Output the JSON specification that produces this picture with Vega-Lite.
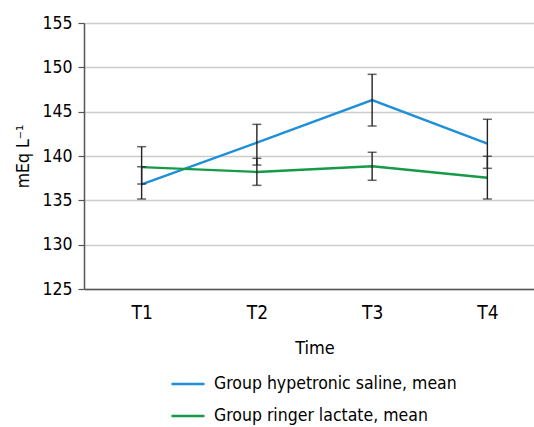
{
  "$schema": "https://vega.github.io/schema/vega-lite/v6.json",
  "width": 461,
  "height": 266,
  "autosize": {"type": "none"},
  "padding": {"left": 84, "top": 23, "right": -11, "bottom": 138},
  "background": "white",
  "config": {
    "view": {"stroke": null},
    "font": "DejaVu Sans Condensed, Roboto",
    "axis": {"labelFont": "DejaVu Sans Condensed, Roboto", "titleFont": "DejaVu Sans Condensed, Roboto"},
    "legend": {"labelFont": "DejaVu Sans Condensed, Roboto"}
  },
  "data": {
    "values": [
      {"time": "T1", "series": "Group hypetronic saline, mean", "mean": 136.8, "low": 135.15, "high": 138.79},
      {"time": "T2", "series": "Group hypetronic saline, mean", "mean": 141.5, "low": 138.98, "high": 143.57},
      {"time": "T3", "series": "Group hypetronic saline, mean", "mean": 146.3, "low": 143.38, "high": 149.21},
      {"time": "T4", "series": "Group hypetronic saline, mean", "mean": 141.4, "low": 138.61, "high": 144.14},
      {"time": "T1", "series": "Group ringer lactate, mean", "mean": 138.75, "low": 136.84, "high": 141.05},
      {"time": "T2", "series": "Group ringer lactate, mean", "mean": 138.2, "low": 136.69, "high": 139.74},
      {"time": "T3", "series": "Group ringer lactate, mean", "mean": 138.85, "low": 137.26, "high": 140.42},
      {"time": "T4", "series": "Group ringer lactate, mean", "mean": 137.55, "low": 135.15, "high": 139.97}
    ]
  },
  "encoding": {
    "x": {
      "field": "time", "type": "ordinal",
      "scale": {"type": "point", "padding": 0.5},
      "axis": {
        "title": "Time", "labelAngle": 0, "ticks": false,
        "domainColor": "#555555", "domainWidth": 1.5,
        "labelFontSize": 19, "labelColor": "#000000", "labelPadding": 14,
        "titleFontSize": 18, "titleFontWeight": "normal", "titleColor": "#000000", "titlePadding": 17
      }
    }
  },
  "layer": [
    {
      "mark": {"type": "line", "strokeWidth": 2.4},
      "encoding": {
        "y": {
          "field": "mean", "type": "quantitative",
          "scale": {"domain": [125, 155], "nice": false, "zero": false},
          "axis": {
            "values": [125, 130, 135, 140, 145, 150, 155],
            "title": "mEq L⁻¹",
            "grid": true, "gridColor": "#cccccc", "gridWidth": 1.5,
            "domainColor": "#555555", "domainWidth": 1.5,
            "tickColor": "#555555", "tickSize": 6, "tickWidth": 1.2,
            "labelFontSize": 17.5, "labelColor": "#000000", "labelPadding": 6,
            "titleFontSize": 17.5, "titleFontWeight": "normal", "titleColor": "#000000", "titlePadding": 9
          }
        },
        "color": {
          "field": "series", "type": "nominal",
          "scale": {
            "domain": ["Group hypetronic saline, mean", "Group ringer lactate, mean"],
            "range": ["#1e90d8", "#169a48"]
          },
          "legend": {
            "orient": "none", "legendX": 86, "legendY": 343, "direction": "vertical",
            "title": null, "labelFontSize": 17.5, "labelColor": "#000000", "labelLimit": 400,
            "symbolType": "stroke", "symbolStrokeWidth": 2.5, "symbolSize": 1089,
            "labelOffset": 8, "rowPadding": 5
          }
        }
      }
    },
    {
      "mark": {"type": "rule", "color": "#222222", "strokeWidth": 1.4},
      "encoding": {
        "y": {"field": "low", "type": "quantitative"},
        "y2": {"field": "high"}
      }
    },
    {
      "mark": {"type": "tick", "color": "#222222", "thickness": 1.5, "size": 9},
      "encoding": {"y": {"field": "low", "type": "quantitative"}}
    },
    {
      "mark": {"type": "tick", "color": "#222222", "thickness": 1.5, "size": 9},
      "encoding": {"y": {"field": "high", "type": "quantitative"}}
    }
  ]
}
